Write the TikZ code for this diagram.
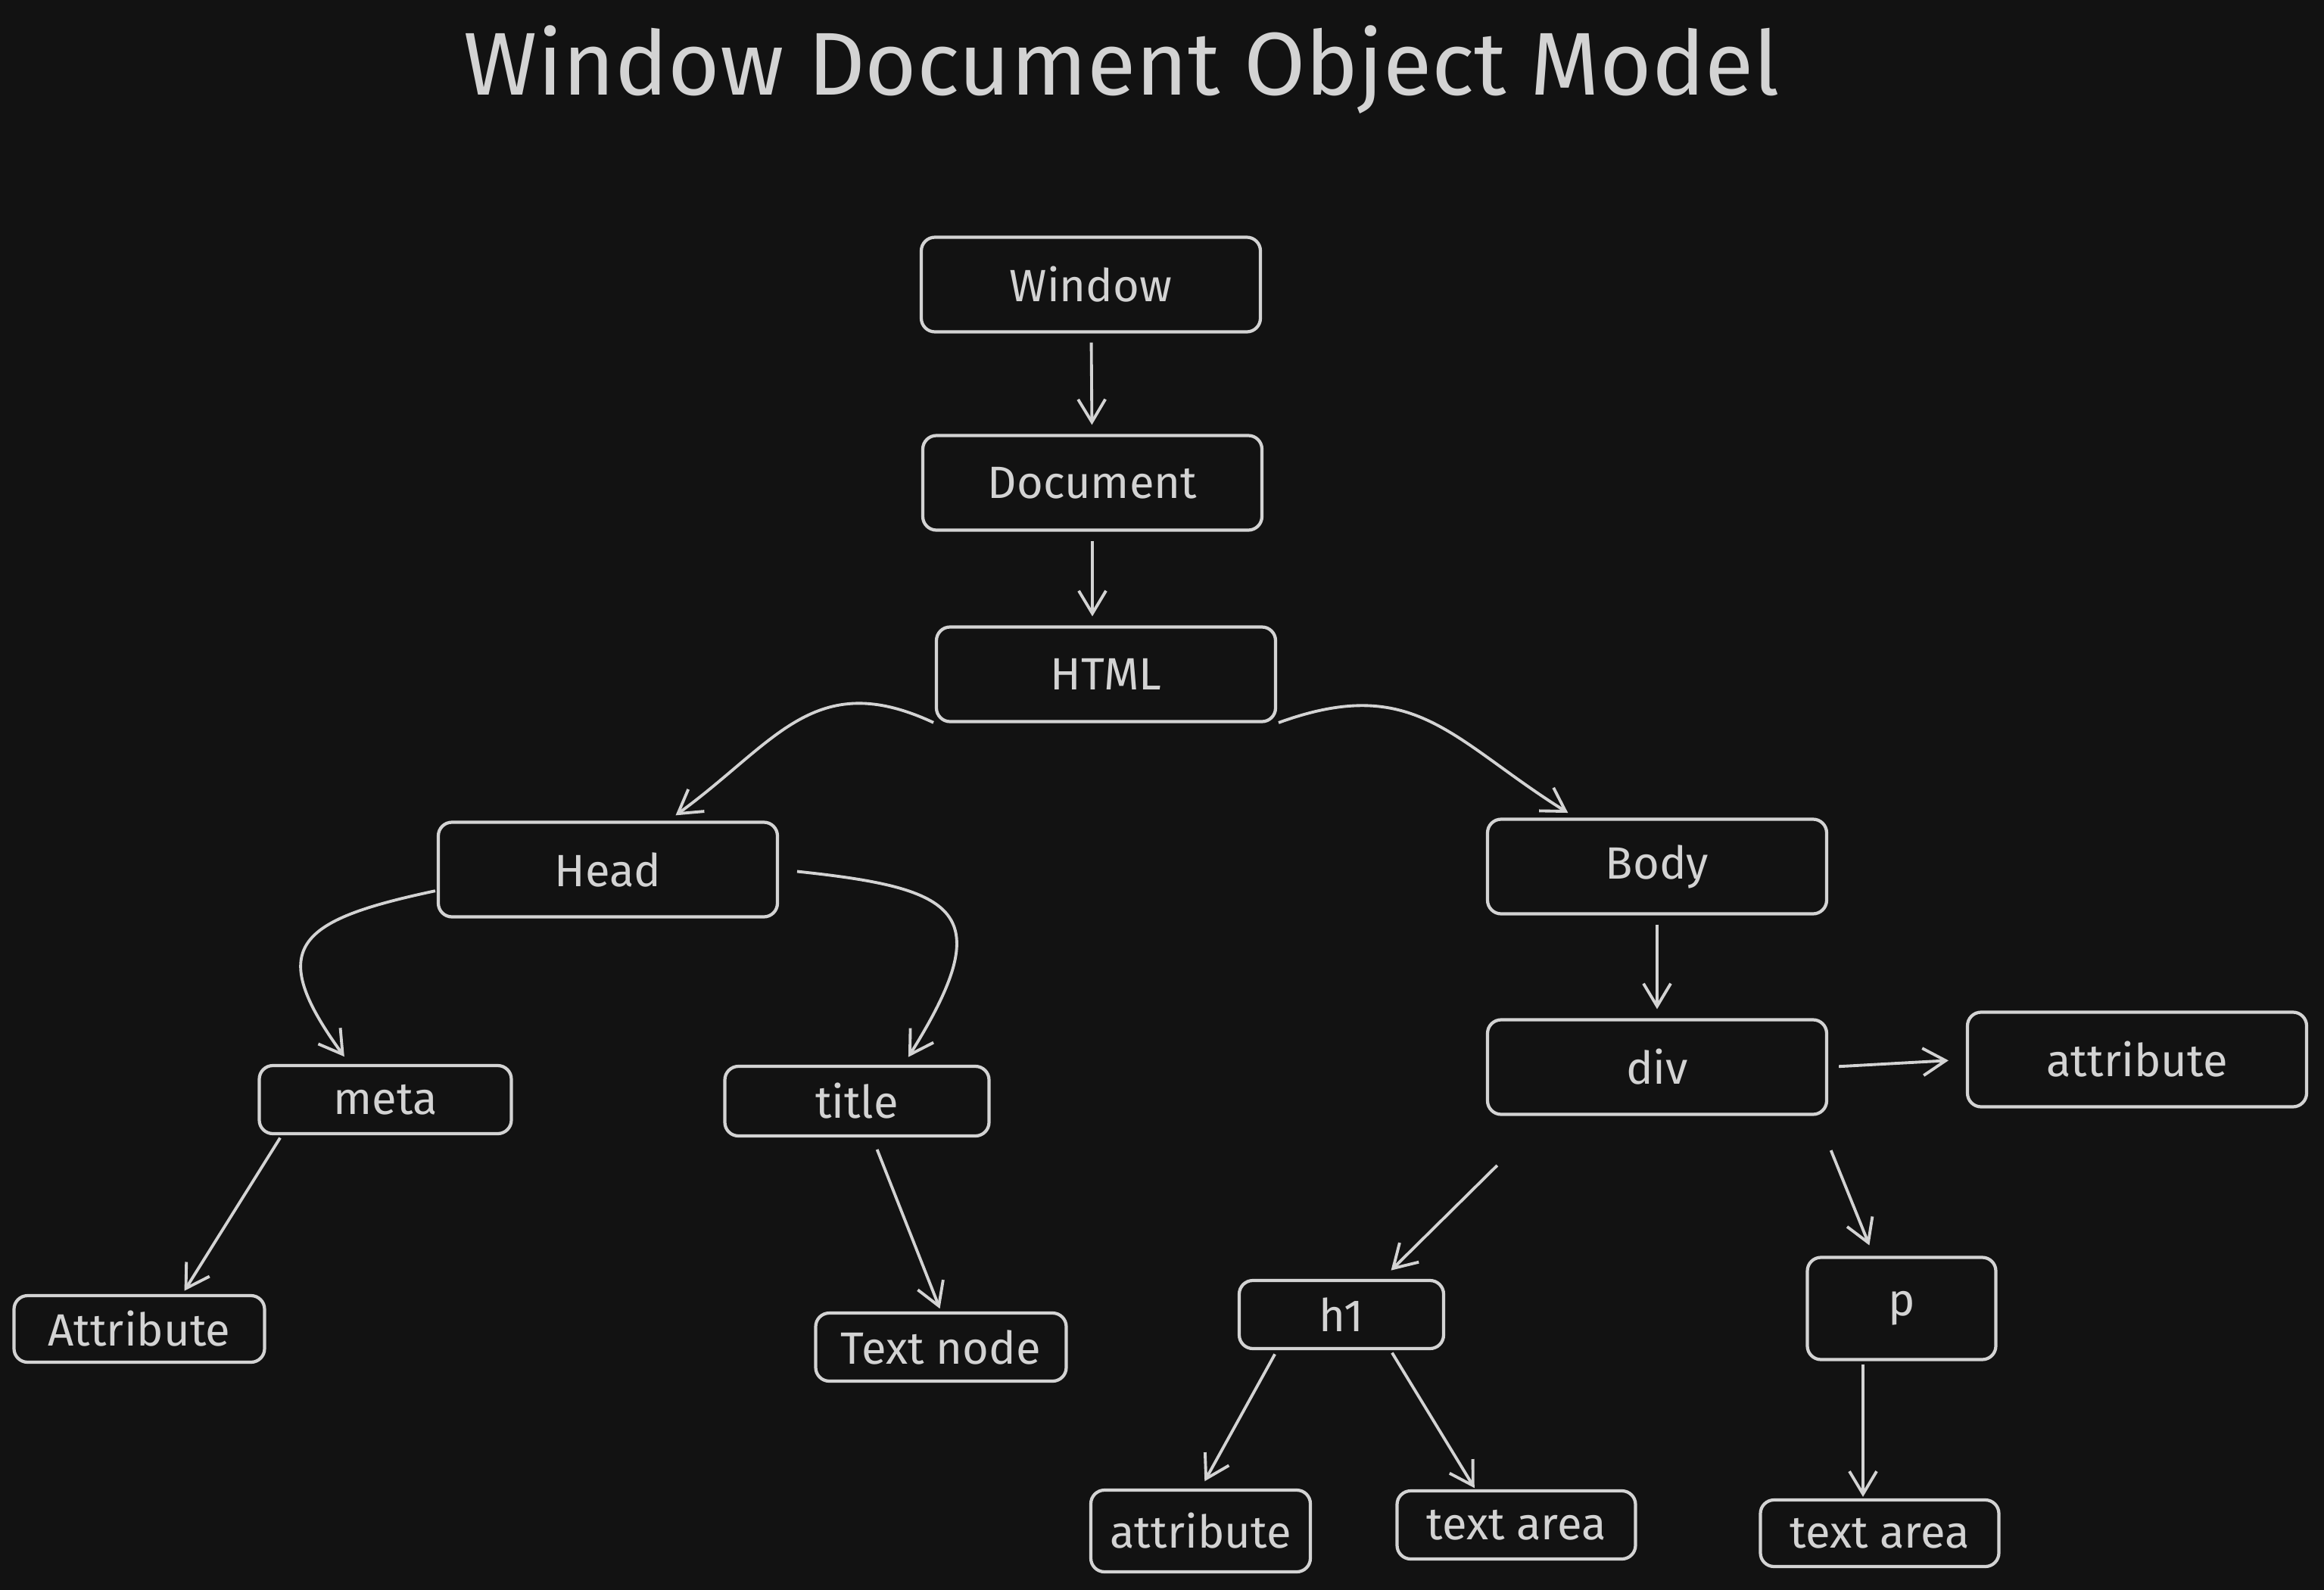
\documentclass[tikz,border=0pt]{standalone}
\usepackage{fontspec}
\setmainfont{Fira Sans}
\usetikzlibrary{arrows.meta}
\definecolor{bg}{HTML}{121212}
\definecolor{ink}{HTML}{D3D3D3}

\begin{document}
\begin{tikzpicture}[
	box/.style={draw=ink, text=ink, line width=1.2pt, rounded corners=0.18cm,
		minimum width=4.48cm, minimum height=1.25cm, font=\fontsize{17}{20}\selectfont},
	leaf/.style={box, minimum width=3.3cm, minimum height=0.9cm},
	arr/.style={draw=ink, line width=1.1pt, -{Straight Barb[length=0.3cm,width=0.36cm]},
		shorten <=0.12cm, shorten >=0.12cm},
]
	\fill[bg] (0,0) rectangle (30.70,-21.01);
	\node[text=ink, font=\fontsize{33.5}{40}\selectfont] (ttl) at (14.82,-0.92) {Window Document Object Model};

	\node[box] (win) at (14.41,-3.76) {Window};
	\node[box] (doc) at (14.43,-6.38) {Document};
	\node[box] (html) at (14.61,-8.91) {HTML};
	\node[box] (head) at (8.03,-11.49) {Head};
	\node[box] (body) at (21.89,-11.45) {Body};
	\node[box] (div) at (21.89,-14.10) {div};
	\node[box] (divattr) at (28.23,-14.00) {attribute};
	\node[leaf, minimum width=3.33cm] (meta) at (5.09,-14.53) {meta};
	\node[leaf, minimum width=3.49cm, minimum height=0.92cm] (title) at (11.32,-14.55) {title};
	\node[leaf, minimum width=3.31cm, minimum height=0.88cm] (metaattr) at (1.84,-17.56) {Attribute};
	\node[leaf, minimum width=3.31cm] (textnode) at (12.43,-17.80) {Text node};
	\node[leaf, minimum width=2.70cm] (h1) at (17.72,-17.37) {h1};
	\node[leaf, minimum width=2.49cm, minimum height=1.35cm] (p) at (25.12,-17.29) {p};
	\node[leaf, minimum width=2.90cm, minimum height=1.08cm] (h1attr) at (15.86,-20.23) {attribute};
	\node[leaf, minimum width=3.15cm] (h1text) at (20.03,-20.15) {text area};
	\node[leaf, minimum width=3.15cm, minimum height=0.88cm] (ptext) at (24.83,-20.26) {text area};

	\draw[arr] (win) -- (doc);
	\draw[arr] (doc.south) -- (doc.south |- html.north);
	\draw[arr, shorten <=0.02cm] (html.south west) to[out=155,in=36,looseness=1.2] (head.39);
	\draw[arr, shorten <=0.02cm] (html.south east) to[out=20,in=148,looseness=1.2] (body.149);
	\draw[arr, shorten <=0.02cm] (head.187) to[out=192,in=126,looseness=1.9] (meta.135);
	\draw[arr, shorten <=0.24cm] (head.east) to[out=-6,in=58,looseness=2] (title.38);
	\draw[arr, shorten <=0.04cm, shorten >=0.05cm] (meta.199) -- (metaattr.39);
	\draw[arr, shorten <=0.17cm, shorten >=0.04cm] (title.-67) -- (textnode.north);
	\draw[arr] (body) -- (div);
	\draw[arr, shorten <=0.14cm, shorten >=0.23cm] (div.east) -- (divattr.west);
	\draw[arr, shorten <=0.93cm, shorten >=0.16cm] (div.204) -- (h1.41);
	\draw[arr, shorten <=0.49cm, shorten >=0.15cm] (div.-17) -- (p.118);
	\draw[arr, shorten <=0.06cm, shorten >=0.11cm] (h1.209) -- (h1attr.north);
	\draw[arr, shorten <=0.04cm, shorten >=0.02cm] (h1.-36) -- (h1text.139);
	\draw[arr, shorten <=0.04cm, shorten >=0.02cm] ([xshift=-0.51cm]p.south) -- ([xshift=-0.51cm]p.south |- ptext.north);
\end{tikzpicture}
\end{document}
